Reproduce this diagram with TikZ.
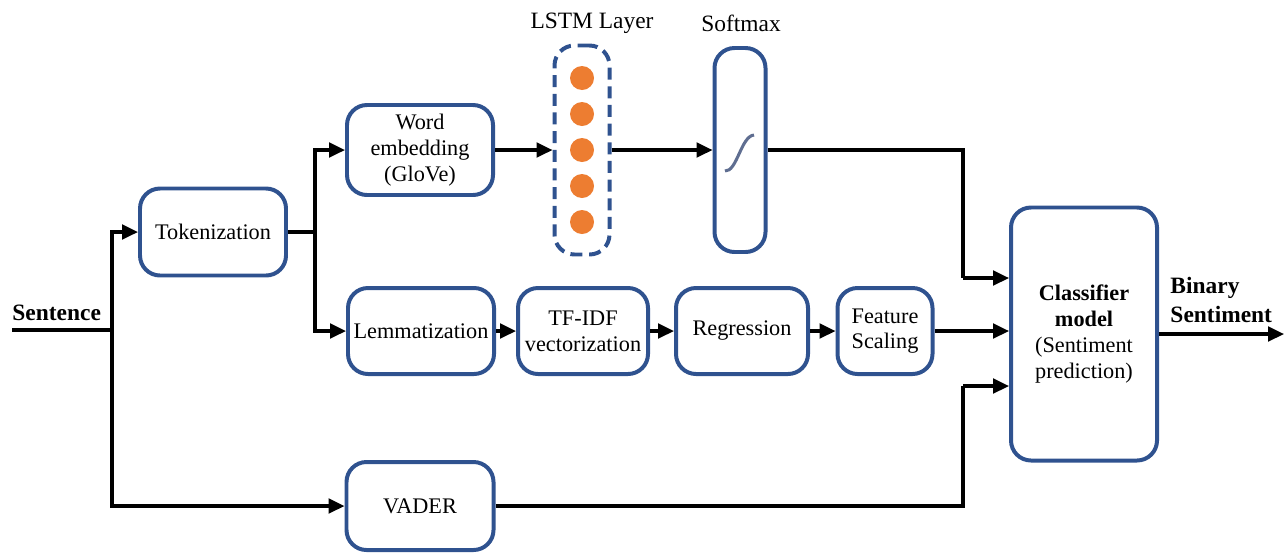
\documentclass[tikz,border=0pt]{standalone}
\usepackage{fontspec}
\setmainfont{Liberation Serif}
\usetikzlibrary{arrows.meta}

\definecolor{boxblue}{RGB}{47,82,143}
\definecolor{dotorange}{RGB}{237,125,49}
\definecolor{curvegray}{RGB}{95,110,145}

\tikzset{
    block/.style={draw=boxblue, line width=1.7pt, rounded corners=3mm, align=center,
        inner sep=2pt, font=\fontsize{9.5}{11}\selectfont},
    unit/.style={circle, fill=dotorange, minimum size=3.6mm, inner sep=0pt},
    link/.style={line width=1.4pt},
    >={Triangle[length=2.4mm,width=2.2mm]}
}

\begin{document}
\begin{tikzpicture}[x=0.15mm, y=-0.15mm]
    \useasboundingbox (0,0) rectangle (1285,554);

    % boxes
    \node [block, minimum width=146*0.15mm, minimum height=87*0.15mm] (tok) at (213,232) {Tokenization};
    \node [block, minimum width=146*0.15mm, minimum height=90*0.15mm] (emb) at (420,150) {Word\\embedding\\(GloVe)};
    \node [block, dash pattern=on 1.8mm off 1mm, minimum width=55*0.15mm, minimum height=209*0.15mm] (lstm) at (582,150) {};
    \node [block, minimum width=51*0.15mm, minimum height=204*0.15mm] (soft) at (740,150) {};
    \node [block, minimum width=146*0.15mm, minimum height=86*0.15mm] (lem) at (421,331) {Lemmatization};
    \node [block, minimum width=130*0.15mm, minimum height=86*0.15mm] (tfidf) at (583,331) {TF-IDF\\vectorization};
    \node [block, minimum width=132*0.15mm, minimum height=86*0.15mm] (reg) at (742,331) {Regression};
    \node [block, minimum width=95*0.15mm, minimum height=86*0.15mm] (feat) at (885,331) {Feature\\Scaling};
    \node [block, minimum width=147*0.15mm, minimum height=88*0.15mm] (vader) at (420,506) {VADER};
    \node [block, minimum width=146*0.15mm, minimum height=253*0.15mm] (cls) at (1084,334) {\textbf{Classifier}\\\textbf{model}\\(Sentiment\\prediction)};

    \foreach \y [count=\i] in {78,114,150,186,222}
        \node [unit] (u\i) at (582,\y) {};
    \draw [curvegray, line width=1.3pt] (725,171) .. controls (737,172) and (741,136) .. (754,135);

    % labels
    \node (lstmlabel) at (592,23) {LSTM Layer};
    \node (softlabel) at (741,23) {Softmax};
    \node [font=\bfseries, anchor=south west, inner sep=0pt] (sent) at (12,321) {Sentence};
    \node [font=\bfseries, align=left, anchor=west, inner sep=0pt] (bin) at (1170,300) {Binary\\Sentiment};

    % connectors
    \coordinate (start) at (12,330);
    \coordinate (split) at (112,330);
    \coordinate (fork) at (315,232);
    \coordinate (join1) at (963,278);
    \coordinate (join2) at (963,386);
    \coordinate (end) at (1284,334);
    \draw [link] (start) -- (split);
    \draw [link,->] (split) |- (tok.west);
    \draw [link,->] (split) |- (vader.west);
    \draw [link] (tok.east) -- (fork);
    \draw [link,->] (fork) |- (emb.west);
    \draw [link,->] (fork) |- (lem.west);
    \draw [link,->] (emb.east) -- (lstm.west);
    \draw [link,->] (lstm.east) -- (soft.west);
    \draw [link,->] (lem.east) -- (tfidf.west);
    \draw [link,->] (tfidf.east) -- (reg.west);
    \draw [link,->] (reg.east) -- (feat.west);
    \draw [link] (soft.east) -| (join1);
    \draw [link,->] (join1) -- (cls.west |- join1);
    \draw [link,->] (feat.east) -- (cls.west |- feat.east);
    \draw [link] (vader.east) -| (join2);
    \draw [link,->] (join2) -- (cls.west |- join2);
    \draw [link,->] (cls.east |- end) -- (end);
\end{tikzpicture}
\end{document}
